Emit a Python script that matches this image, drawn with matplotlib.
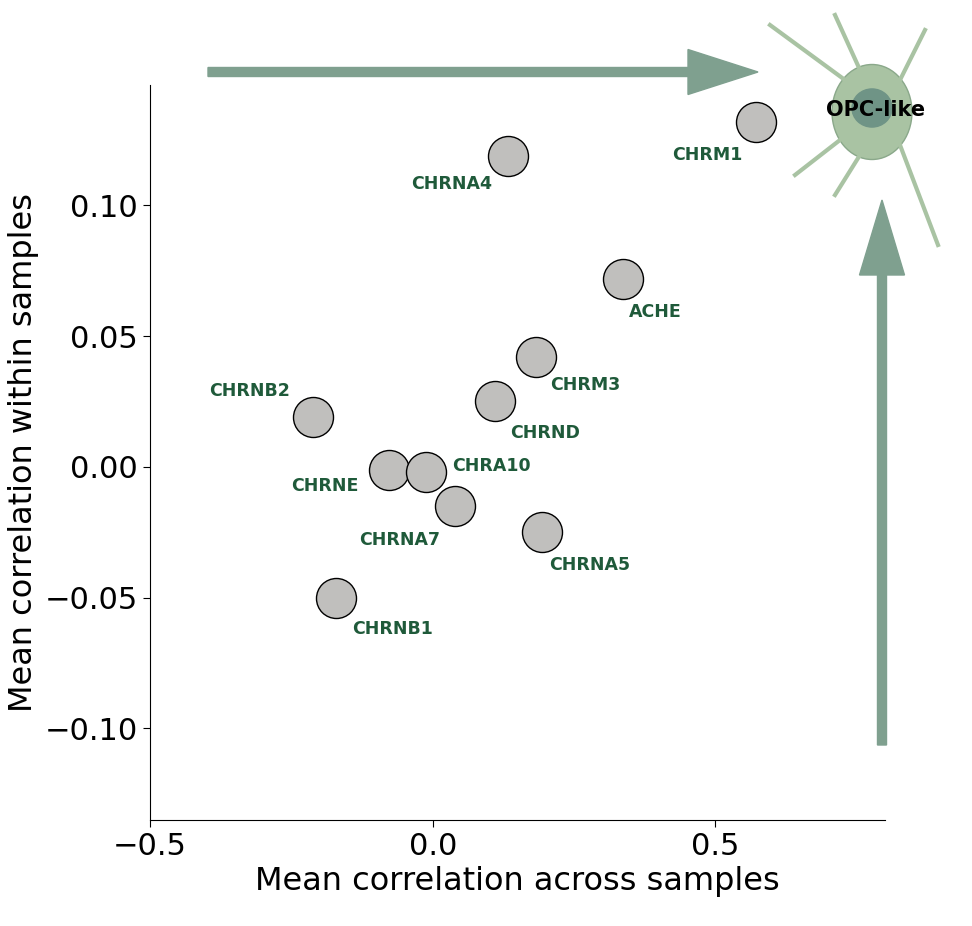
import matplotlib.pyplot as plt
from matplotlib.patches import Ellipse, Circle, FancyArrow

genes = ["CHRM1", "CHRNA4", "ACHE", "CHRM3", "CHRND", "CHRNB2", "CHRNE", "CHRA10", "CHRNA7", "CHRNA5", "CHRNB1"]
across = [0.571, 0.133, 0.337, 0.182, 0.110, -0.212, -0.078, -0.011, 0.039, 0.193, -0.171]
within = [0.132, 0.119, 0.072, 0.042, 0.025, 0.019, -0.001, -0.002, -0.015, -0.025, -0.050]
# label offsets in pixels
offsets = {"CHRM1": (-48, -33), "CHRNA4": (-56, -28), "ACHE": (32, -33), "CHRM3": (50, -28),
           "CHRND": (50, -32), "CHRNB2": (-63, 26), "CHRNE": (-64, -16), "CHRA10": (65, 6),
           "CHRNA7": (-55, -34), "CHRNA5": (48, -33), "CHRNB1": (57, -31)}

W, H = 972, 926
fig = plt.figure(figsize=(9.72, 9.26), dpi=100)
ax = fig.add_axes([150 / W, 1 - 820 / H, 735 / W, 735 / H])
ax.scatter(across, within, s=830, color="#c0bfbd", edgecolor="black", linewidth=1, zorder=3)
for g, x, y in zip(genes, across, within):
    dx, dy = offsets[g]
    ax.annotate(g, (x, y), xytext=(dx, dy), textcoords="offset pixels", ha="center", va="center",
                fontsize=12.5, fontweight="bold", color="#1f5a3a")

ax.set_xlim(-0.5, 0.8)
ax.set_ylim(-0.135, 0.146)
ax.set_xticks([-0.5, 0.0, 0.5])
ax.set_xticklabels(["\u22120.5", "0.0", "0.5"])
ax.set_yticks([-0.10, -0.05, 0.0, 0.05, 0.10])
ax.set_yticklabels(["\u22120.10", "\u22120.05", "0.00", "0.05", "0.10"])
ax.tick_params(labelsize=22, length=5)
ax.set_xlabel("Mean correlation across samples", fontsize=23)
ax.set_ylabel("Mean correlation within samples", fontsize=23)
for s in ["top", "right"]:
    ax.spines[s].set_visible(False)

# decorative arrows and OPC cell
col = "#7fa08f"
fig.patches.append(FancyArrow(208 / W, 1 - 72 / H, 480 / W, 0, width=9 / H, head_width=45 / H,
                              head_length=70 / W, color=col, transform=fig.transFigure))
fig.patches.append(FancyArrow(882 / W, 1 - 745 / H, 0, 470 / H, width=9 / W, head_width=45 / W,
                              head_length=75 / H, color=col, transform=fig.transFigure))
for (x0, y0, x1, y1) in [(845, 80, 770, 25), (860, 70, 835, 15), (900, 80, 925, 30), (840, 140, 795, 175),
                         (900, 145, 938, 245), (860, 155, 835, 195)]:
    fig.add_artist(plt.Line2D([x0 / W, x1 / W], [1 - y0 / H, 1 - y1 / H], color="#a9c3a3", lw=3))
fig.patches.append(Ellipse((872 / W, 1 - 112 / H), 80 / W, 95 / H, color="#a9c3a3", ec="#8aa88a",
                           transform=fig.transFigure))
fig.patches.append(Circle((872 / W, 1 - 108 / H), 20 / W, color="#6f9486", transform=fig.transFigure))
fig.text(876 / W, 1 - 110 / H, "OPC-like", fontsize=15, fontweight="bold", ha="center", va="center")

fig.savefig("out.png", dpi=100)
